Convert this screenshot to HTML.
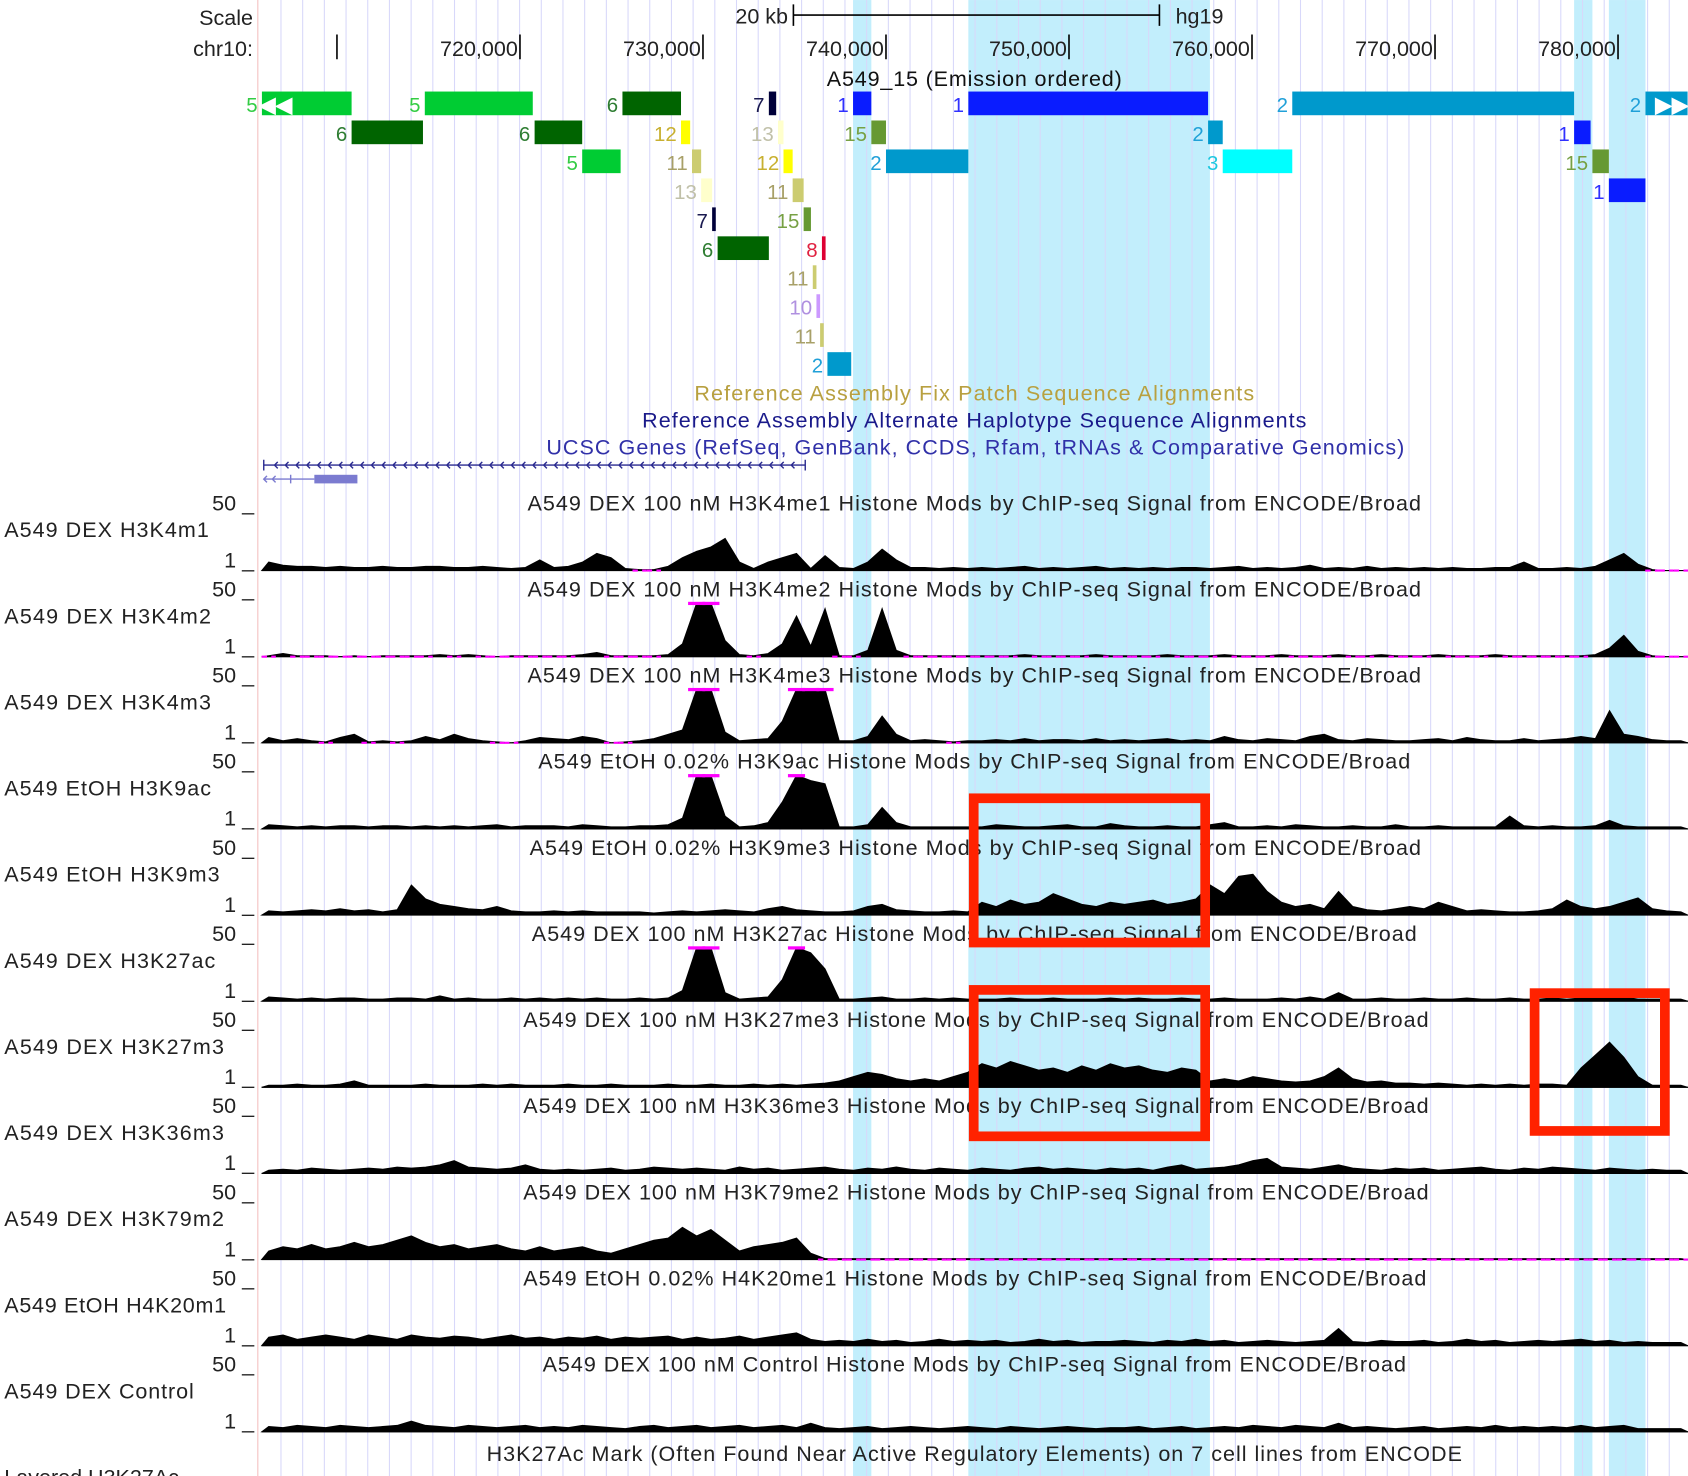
<!DOCTYPE html>
<html><head><meta charset="utf-8"><style>
html,body{margin:0;padding:0;background:#fff;}
svg{display:block;font-family:"Liberation Sans",sans-serif;}
</style></head><body>
<svg id="chart" width="1688" height="1476" viewBox="0 0 1568 1371" xmlns="http://www.w3.org/2000/svg">
<g id="bg"></g>
<g id="fg"></g>
</svg>
<script>
// ---- data ----
const highlightStartsKb = [738.2, 744.5, 777.6, 779.5];
const highlightEndsKb = [739.2, 757.7, 778.6, 781.5];
const tickKb = [710, 720, 730, 740, 750, 760, 770, 780];
const tickLabels = ["", "720,000", "730,000", "740,000", "750,000", "760,000", "770,000", "780,000"];
const stateRows = [0,0,0,0,0,0,0,0, 1,1,1,1,1,1,1, 2,2,2,2,2,2, 3,3,3, 4,4, 5,5, 6, 7, 8, 9];
const stateStarts = [705.9,714.8,725.6,733.6,738.2,744.5,762.2,781.5, 710.8,720.8,728.8,734.1,739.2,757.6,777.6, 723.4,729.4,734.4,740.0,758.4,778.6, 729.9,734.9,779.5, 730.5,735.5, 730.8,736.5, 736.0, 736.2, 736.4, 736.8];
const stateEnds = [710.8,720.7,728.8,734.0,739.2,757.6,777.6,783.8, 714.7,723.4,729.3,734.4,740.0,758.4,778.5, 725.5,729.9,734.9,744.5,762.2,779.5, 730.5,735.5,781.5, 730.7,735.9, 733.6,736.7, 736.2, 736.4, 736.6, 738.1];
const stateIds = [5,5,6,7,1,1,2,2, 6,6,12,13,15,2,1, 5,11,12,2,3,15, 13,11,1, 7,15, 6,8, 11, 10, 11, 2];
const trackLabels = ["A549 DEX H3K4m1","A549 DEX H3K4m2","A549 DEX H3K4m3","A549 EtOH H3K9ac","A549 EtOH H3K9m3","A549 DEX H3K27ac","A549 DEX H3K27m3","A549 DEX H3K36m3","A549 DEX H3K79m2","A549 EtOH H4K20m1","A549 DEX Control"];
const trackTitles = ["A549 DEX 100 nM H3K4me1 Histone Mods by ChIP-seq Signal from ENCODE/Broad","A549 DEX 100 nM H3K4me2 Histone Mods by ChIP-seq Signal from ENCODE/Broad","A549 DEX 100 nM H3K4me3 Histone Mods by ChIP-seq Signal from ENCODE/Broad","A549 EtOH 0.02% H3K9ac Histone Mods by ChIP-seq Signal from ENCODE/Broad","A549 EtOH 0.02% H3K9me3 Histone Mods by ChIP-seq Signal from ENCODE/Broad","A549 DEX 100 nM H3K27ac Histone Mods by ChIP-seq Signal from ENCODE/Broad","A549 DEX 100 nM H3K27me3 Histone Mods by ChIP-seq Signal from ENCODE/Broad","A549 DEX 100 nM H3K36me3 Histone Mods by ChIP-seq Signal from ENCODE/Broad","A549 DEX 100 nM H3K79me2 Histone Mods by ChIP-seq Signal from ENCODE/Broad","A549 EtOH 0.02% H4K20me1 Histone Mods by ChIP-seq Signal from ENCODE/Broad","A549 DEX 100 nM Control Histone Mods by ChIP-seq Signal from ENCODE/Broad"];
const h3k4me1 = [8,5,4,4,3,4,3,3,4,3, 3,4,4,3,3,4,3,2,3,10, 3,4,8,16,12,2,1,1,4,12, 18,22,30,8,2,8,12,16,2,14, 3,2,8,20,10,3,3,2,3,2, 3,2,3,4,2,3,2,3,4,2, 3,2,3,2,3,3,2,3,4,2, 3,2,3,5,2,3,2,4,2,3, 2,3,2,3,2,2,3,3,8,2, 2,3,2,4,10,16,6,1,0,0];
const h3k4me2 = [1,3,1,1,1,0,1,0,1,1, 1,1,2,1,2,1,0,1,1,1, 1,1,2,4,1,1,1,1,2,12, 50,50,15,2,1,3,12,38,10,45, 1,1,6,45,6,1,1,1,1,1, 1,1,1,2,1,1,1,1,2,1, 1,1,1,2,1,1,1,2,1,1, 1,2,1,1,1,2,1,1,2,1, 1,1,2,1,1,1,2,1,1,1, 1,1,1,2,8,20,5,1,0,0];
const h3k4me3 = [5,2,4,2,1,5,8,1,2,1, 2,6,3,8,4,2,1,0,2,5, 4,3,6,4,0,1,2,4,8,12, 50,50,10,2,3,4,20,50,50,50, 2,2,6,25,8,2,3,2,1,2, 2,3,2,4,2,3,3,2,4,2, 3,2,3,4,2,3,2,6,3,2, 4,3,2,6,8,3,2,4,3,2, 2,3,4,2,5,3,2,2,4,2, 3,4,6,4,30,8,6,3,2,2];
const h3k9ac = [4,3,2,3,2,3,3,2,3,3, 2,3,2,3,2,3,4,2,3,3, 3,2,4,3,2,2,3,3,4,10, 50,50,12,2,3,6,25,50,45,42, 2,2,4,20,6,2,2,2,2,2, 2,4,3,2,2,3,4,2,2,5, 3,2,2,3,2,2,4,6,2,2, 3,2,4,3,2,2,3,2,2,4, 2,2,3,2,2,2,2,12,3,2, 3,2,2,3,8,3,2,2,2,2];
const h3k9me3 = [4,3,4,5,4,6,4,5,3,5, 28,15,10,8,6,5,8,4,3,3, 4,3,4,3,3,3,3,2,3,4, 3,4,5,4,3,6,8,5,4,3, 3,4,8,10,5,4,3,3,4,3, 12,8,14,10,12,20,15,10,8,12, 10,12,14,10,12,15,28,20,36,38, 22,12,8,10,6,22,8,5,4,6, 8,6,12,8,4,5,4,3,3,4, 6,14,8,6,8,12,16,6,4,3];
const h3k27ac = [4,3,2,3,2,3,3,2,2,3, 3,2,5,2,3,2,2,3,2,3, 2,3,2,3,2,2,3,2,3,10, 50,50,8,2,3,4,20,50,45,30, 2,2,3,4,2,2,3,2,3,2, 2,2,3,2,2,3,2,2,2,3, 2,3,2,2,3,2,2,3,2,2, 2,3,2,4,2,8,2,2,3,2, 2,3,2,2,3,2,2,3,2,2, 3,2,3,4,3,4,2,2,2,2];
const h3k27me3 = [2,2,3,2,2,3,6,2,2,2, 2,3,2,2,2,3,2,3,2,2, 2,3,2,2,3,2,2,2,3,2, 2,3,2,2,3,2,3,2,3,4, 6,10,14,12,8,6,8,6,10,14, 22,18,24,20,16,18,14,20,16,22, 18,20,16,14,18,16,6,8,6,10, 8,6,5,6,10,18,8,5,6,4, 4,3,4,3,2,3,2,3,2,3, 3,2,18,30,42,28,10,2,2,2];
const h3k36me3 = [3,4,3,5,4,3,4,5,4,6, 5,6,8,12,6,5,4,5,8,4, 3,4,3,4,5,3,4,6,5,4, 5,4,3,6,4,5,3,4,5,6, 4,3,5,4,6,4,3,5,4,3, 5,4,3,5,6,4,5,4,3,5, 4,5,3,6,8,4,5,6,8,12, 14,6,5,4,6,8,5,4,3,5, 4,5,3,4,5,6,4,3,5,4, 6,5,4,3,5,4,3,4,3,3];
const h3k79me2 = [8,12,10,14,10,12,16,12,14,18, 22,16,12,14,10,12,14,10,8,12, 8,10,12,8,6,10,14,18,20,30, 22,28,18,8,12,14,16,20,6,1, 1,1,1,1,1,1,1,1,1,1, 1,1,1,1,1,1,1,1,1,1, 1,1,1,1,1,1,1,1,1,1, 1,1,1,1,1,1,1,1,1,1, 1,1,1,1,1,1,1,1,1,1, 1,1,1,1,1,1,1,1,1,1];
const h4k20me1 = [8,10,6,8,10,8,6,10,8,6, 10,8,7,9,8,6,8,10,7,8, 6,8,7,9,6,8,7,8,9,6, 8,6,7,9,6,8,10,12,6,4, 5,4,6,4,5,3,4,6,4,5, 4,5,3,4,6,4,5,3,4,4, 5,4,3,5,4,6,4,5,3,4, 5,4,3,4,5,16,4,3,5,4, 4,5,3,4,6,4,5,3,4,5, 4,5,6,4,5,3,4,3,3,3];
const controlSig = [5,4,6,5,4,6,5,4,5,6, 10,6,5,4,6,5,4,5,6,4, 5,4,6,5,4,3,5,6,4,5, 6,4,5,6,4,5,6,4,8,4, 3,4,5,3,4,5,4,3,4,5, 4,3,5,4,3,4,5,4,3,4, 4,5,3,4,5,3,4,5,4,6, 5,4,6,5,4,8,4,5,4,3, 4,5,3,4,5,4,6,4,5,4, 5,4,6,4,5,6,3,3,3,3];
const trackSeries = [h3k4me1,h3k4me2,h3k4me3,h3k9ac,h3k9me3,h3k27ac,h3k27me3,h3k36me3,h3k79me2,h4k20me1,controlSig];

// ---- helpers ----
const NS = "http://www.w3.org/2000/svg";
const bg = document.getElementById('bg'), fg = document.getElementById('fg');
const X0 = 243, X1 = 1568;
function xKb(kb){ return 313 + (kb - 710) * 17; }
function mk(parent, tag, attrs, text){
  const e = document.createElementNS(NS, tag);
  for (const k in attrs) e.setAttribute(k, attrs[k]);
  if (text !== undefined) e.textContent = text;
  parent.appendChild(e); return e;
}
const stateColor = {1:"#0a1cff",2:"#0099cc",3:"#00ffff",5:"#00cc33",6:"#006400",7:"#00003a",8:"#dd0033",10:"#cc99ff",11:"#cccc70",12:"#ffff00",13:"#ffffcc",15:"#669933"};
const stateTextColor = {1:"#3030ff",2:"#20a0d8",3:"#20c8e0",5:"#33cc44",6:"#2e7d32",7:"#1a1a50",8:"#e02040",10:"#b090e0",11:"#a8a068",12:"#c8b030",13:"#c0c0a8",15:"#77a044"};

for (let i = 0; i < highlightStartsKb.length; i++){
  const r = mk(bg, 'rect', {x: xKb(highlightStartsKb[i]), y: 0, width: xKb(highlightEndsKb[i]) - xKb(highlightStartsKb[i]), height: 1371, fill: "#c2eefc"});
  
  
}
for (let gx = 261; gx < 1568; gx += 20.15){
  const l = mk(bg, 'line', {x1: gx, x2: gx, y1: 0, y2: 1371, stroke: "#d8d8fa", 'stroke-width': 1});
  
  
}
const lb = mk(bg, 'line', {x1: 239.5, x2: 239.5, y1: 0, y2: 1371, stroke: "#f4c0c0", 'stroke-width': 1});



let t = mk(fg, 'text', {x: 235, y: 23, 'font-size': 20, 'text-anchor': 'end', fill: '#222'}, 'Scale');
 
t = mk(fg, 'text', {x: 235, y: 52, 'font-size': 20, 'text-anchor': 'end', fill: '#222'}, 'chr10:');
 
t = mk(fg, 'text', {x: 732, y: 22, 'font-size': 20, 'text-anchor': 'end', fill: '#222'}, '20 kb');
 
t = mk(fg, 'text', {x: 1092, y: 22, 'font-size': 20, fill: '#222'}, 'hg19');
 
let sb = mk(fg, 'path', {d: 'M737,4 V24 M737,14 H1077 M1077,4 V24', stroke: '#000', 'stroke-width': 1.5, fill: 'none'});
 
for (let i = 0; i < tickKb.length; i++){
  const x = xKb(tickKb[i]);
  const tk = mk(fg, 'line', {x1: x, x2: x, y1: 32, y2: 55, stroke: '#000', 'stroke-width': 1.5});
   
  if (tickLabels[i]){
    const tl = mk(fg, 'text', {x: x - 2, y: 52, 'font-size': 20, 'text-anchor': 'end', fill: '#222'}, tickLabels[i]);
     
  }
}
t = mk(fg, 'text', {x: 905, y: 80, 'font-size': 20, 'text-anchor': 'middle', fill: '#111', textLength: 274}, 'A549_15 (Emission ordered)');
 

for (let i = 0; i < stateIds.length; i++){
  const y = 85 + stateRows[i] * 26.9;
  const x1 = xKb(stateStarts[i]), x2 = xKb(stateEnds[i]);
  const s = stateIds[i];
  const r = mk(fg, 'rect', {x: x1, y: y, width: Math.max(2.5, x2 - x1), height: 22, fill: stateColor[s]});
  
  
  const lbl = mk(fg, 'text', {x: x1 - 4, y: y + 19, 'font-size': 19, 'text-anchor': 'end', fill: stateTextColor[s]}, String(s));
  
  
}
const ar1 = mk(fg, 'text', {x: 256, y: 104, 'font-size': 20, 'font-weight': 'bold', 'text-anchor': 'middle', fill: '#fff'}, '◀◀');
 
const ar2 = mk(fg, 'text', {x: 1553, y: 104, 'font-size': 20, 'font-weight': 'bold', 'text-anchor': 'middle', fill: '#fff'}, '▶▶');
 

t = mk(fg, 'text', {x: 905, y: 372, 'font-size': 20, 'text-anchor': 'middle', fill: '#b8a040', textLength: 520}, 'Reference Assembly Fix Patch Sequence Alignments');
 
t = mk(fg, 'text', {x: 905, y: 397, 'font-size': 20, 'text-anchor': 'middle', fill: '#1a1a8a', textLength: 617}, 'Reference Assembly Alternate Haplotype Sequence Alignments');
 
t = mk(fg, 'text', {x: 906, y: 422, 'font-size': 20, 'text-anchor': 'middle', fill: '#3030a8', textLength: 797}, 'UCSC Genes (RefSeq, GenBank, CCDS, Rfam, tRNAs & Comparative Genomics)');
 
let gd = 'M245,432 H748 M748,427 V437 M245,427 V437';
for (let gx = 255; gx < 745; gx += 10) gd += ` M${gx+3},429 L${gx},432 L${gx+3},435`;
let g1 = mk(fg, 'path', {d: gd, stroke: '#2a2a90', 'stroke-width': 1.3, fill: 'none'});
 
let g2 = mk(fg, 'path', {d: 'M245,445 H292 M248,442 L245,445 L248,448 M256,442 L253,445 L256,448 M270,441 V449', stroke: '#7b7bd0', 'stroke-width': 1.3, fill: 'none'});
 
let g3 = mk(fg, 'rect', {x: 292, y: 441, width: 40, height: 8, fill: '#7b7bd0'});
 

const titleSpans = [[490,1320],[490,1320],[490,1320],[500,1310],[492,1320],[494,1316],[486,1327],[486,1327],[486,1327],[486,1325],[504,1306]];
const labelWidths = [190,192,192,192,200,196,204,204,204,206,176];
const binW = (X1 - X0) / 100;
function binX(i){ return X0 + (i + 0.5) * binW; }
function valY(base, v){ return base - Math.min(v, 50); }
for (let k = 0; k < trackSeries.length; k++){
  const top = 467 + 80 * k, base = 530 + 80 * k;
  const g = mk(fg, 'g', {});
  
  
  let e = mk(g, 'text', {x: 236, y: top + 7, 'font-size': 20, 'text-anchor': 'end', fill: '#222'}, '50 _');
   
  e = mk(g, 'text', {x: 236, y: base - 3, 'font-size': 20, 'text-anchor': 'end', fill: '#222'}, '1 _');
   
  e = mk(g, 'text', {x: 4, y: top + 32, 'font-size': 20, fill: '#222', textLength: labelWidths[k]}, trackLabels[k]);
   
  const sp = titleSpans[k];
  e = mk(g, 'text', {x: (sp[0] + sp[1]) / 2, y: top + 7, 'font-size': 20, 'text-anchor': 'middle', fill: '#222', textLength: sp[1] - sp[0]}, trackTitles[k]);
   
  const vals = trackSeries[k];
  let d = `M${X0},${base}`;
  for (let i = 0; i < vals.length; i++) d += ` L${binX(i).toFixed(1)},${valY(base, vals[i]).toFixed(1)}`;
  d += ` L${X1},${base} Z`;
  e = mk(g, 'path', {d: d, fill: '#000', stroke: '#000', 'stroke-width': 0.8});
   
  e = mk(g, 'line', {x1: X0, x2: X1, y1: base, y2: base, stroke: '#000', 'stroke-width': 1});
   
  for (let i = 0; i < vals.length; i++){
    if (vals[i] >= 50){
      e = mk(g, 'rect', {x: binX(i) - binW * 0.6, y: base - 51, width: binW * 1.2, height: 3, fill: '#ff00ff'});
       
    } else if (vals[i] <= 1){
      e = mk(g, 'line', {x1: binX(i) - binW / 2, x2: binX(i) + binW / 2, y1: base, y2: base, stroke: '#ff00ff', 'stroke-width': 2, 'stroke-dasharray': '5 4'});
       
    }
  }
}
t = mk(fg, 'text', {x: 905, y: 1357, 'font-size': 20, 'text-anchor': 'middle', fill: '#222', textLength: 906}, 'H3K27Ac Mark (Often Found Near Active Regulatory Elements) on 7 cell lines from ENCODE');
 
t = mk(fg, 'text', {x: 4, y: 1379, 'font-size': 20, fill: '#222'}, 'Layered H3K27Ac');
 

const boxes = [[900,737,1124,880],[900,915,1124,1060],[1421,918,1551,1055]];
for (const b of boxes){
  const r = mk(fg, 'rect', {x: b[0] + 4.5, y: b[1] + 4.5, width: b[2] - b[0] - 9, height: b[3] - b[1] - 9, fill: 'none', stroke: '#ff2200', 'stroke-width': 9});
  
  
}
</script>
</body></html>
